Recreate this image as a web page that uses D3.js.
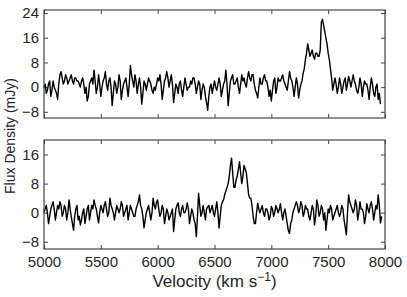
<!DOCTYPE html>
<html>
<head>
<meta charset="utf-8">
<script src="https://cdn.jsdelivr.net/npm/d3@7"></script>
<style>
  body { margin: 0; background: #fff; }
  text { font-family: "Liberation Sans", Arial, sans-serif; fill: #262626; }
</style>
</head>
<body>
<div id="chartContainer"></div>
<script>
// velocity grid, 10 km/s channels
const vStart = 5000;
const vStep = 10;

const xTicks = [5000, 5500, 6000, 6500, 7000, 7500, 8000];
const topTicks = [-8, 0, 8, 16, 24];
const bottomTicks = [-8, 0, 8, 16];

// flux density (mJy), top spectrum
const fluxTop = [
  0, 1, -2, -1, 1, 2, -3, -1, 2, 0, -1, -2, -4, 1, 4, 5, 3, 1, 2, 4,
  3, 1, 2, 3, 4, 2, 1, 3, 3, 2, 2, 1, 0, 2, 3, 1, -2, 0, -4.5, -3,
  1, 2, 3, 1, 5.5, 2, -2, 0, 4, 1, -3, 0, 2, 3, 5, 1, -1, 2, 3, 0,
  -6, -2, 2, 1, -2, 0, 4, 2, -4, -1, 1, 2, 3, 0, -3, 1, 7, 4, 2, 0,
  4, 2, -2, 1, 3, 0, -5.5, -2, 2, 1, -1, 1, 3, 2, 1, -1, -2, 0, -1, 1,
  3, 2, 4, 1, -4, -1, 2, 3, 5, 3, 0, 2, 4, 1, -5, -2, 1, 0, -2, 1,
  2, -1, -3, 0, 3, 1, -1, 0, 0, 2, 1, 3, 3, 1, -2, 0, 2, 1, -4, -1,
  1, 0, -3, -5, -7.5, -3, 0, 1, -2, 0, 2, 0, -1, 1, 3, 1, -3, -1, 1, 2,
  5.5, 1, -6, -2, 2, 3, 4, 1, 1, 2, 3, 0, -2, 1, 4, 2, 3, 1, 0, 3,
  5, 3, 2, 4, 4, 1, -1, -2, -3.5, 0, 3, 1, 1, 3, 4, 2, 2, 0, -3, -1,
  -4.5, -1, 2, 3, -2, 0, 3, 2, 2, 3, 4, 2, 1, 0, -1, 2, 5, 3, 2, 0,
  -3, 0, 3, 1, -3.5, -1, 1, 2, 4.5, 6, 9, 11, 14, 12, 10, 11, 12, 10, 9, 11,
  11, 10, 10, 12, 21, 22, 20, 18, 16, 14, 11, 9, 6, 3, -1, 1, 3, 1, -2, 0,
  3, 1, -2, 0, 2, 3, -1, 1, 3.5, 2, 0, 2, 4, 2, 1, -1, -2, 0, 3, 1,
  -3, 0, 2, 1, 1, -1, -4, 0, 3, 1, -2, -3, 0, 1, -4, -2, -5.5
];

// flux density (mJy), bottom spectrum
const fluxBottom = [
  0, 1, 2, 0, -3, -1, 1, 2, 3, 1, -2, 0, 2, 1, 3, 2, -1, 0, 2, 1,
  -2, 0, 3.5, 1, -1, -3, -4.8, -1, 1, 2, -2, -1, -3.4, -2, 0, 1, -3, -1, 1, 2,
  -2, 0, 2, 1, 3.5, 2, 1, -1, -2.8, 0, 2, 1, 0, 2, 3, 1, -1, 0, 4, 2,
  1, 0, -2, 0, 2, 1, 0, 1, 3, 2, -1, 0, 1, 2, -2, 0, 2, 1, 0, -1,
  -1, 1, 2, 3, 4.9, 2, 1, -1, -4.2, -2, 0, 1, 2, 0, -2, 0, 4, 2, 1, 3,
  3.5, 1, -1, 0, 2, 1, -3, -1, 1, 0, -2, -1, 0, 1, -5.2, -2, 1, 2, 2.7, 0,
  -1, 1, 2, 0, 0, 1, 2.7, 1, -3, -1, 1, 0, -2, -3, -6.6, -1, 5.3, 2, -1, 0,
  2, 0, -2, 1, 1.6, 2, 0, 1, 2, 0, -1, 1, 3, 0, -4.2, -1, 2, 3, 3.5, 5,
  6, 7, 8, 10, 13, 15, 11, 7, 7, 9, 10, 12, 14, 11, 8, 10, 13, 12, 11, 8,
  5, 4, 4, 2, -1, -3, -3, 0, 2.6, 1, 0, 1, 2, 0, -1, 1, 1, 0, -2, -1,
  1.7, 1, -1, 0, 2, 1, 0, 1, 2.5, 0, -2, 0, 1, -1, -3, -5, -5.7, -3, -2, 0,
  1, 2, 3, 2, 0, 1, 3, 2, -1, 0, 2, 1, 1, -1, -2, 0, 2, 1, -3.4, -1,
  3.5, 2, -1, 0, 2, 1, -2, 0, -4.8, -2, 1, 0, 2, 1, -2, -1, 0, 1, 2, 0,
  -1, 0, 2, 1, -2, -4, -6.1, 0, 4.9, 3, 2, 1, 0, 1, 3.5, 2, -2, 0, 3, 1,
  1, 0, -3, -1, 2.5, 1, 0, 2, 3, 1, -2, 0, 2, 1, 4.9, 2, -2.8, -1
];

const svgWidth = 407;
const svgHeight = 297;
const left = 44, right = 385;

const svg = d3.select("#chartContainer")
  .append("svg")
  .attr("width", svgWidth)
  .attr("height", svgHeight);

const xScale = d3.scaleLinear().domain([5000, 8000]).range([left, right]);

function drawPanel(values, yDomain, ticks, top, bottom, showX) {
  const yScale = d3.scaleLinear().domain(yDomain).range([bottom, top]);
  const g = svg.append("g");

  // left axis with labels, ticks pointing in
  g.append("g")
    .attr("transform", `translate(${left},0)`)
    .call(d3.axisLeft(yScale).tickValues(ticks).tickSizeInner(-4).tickSizeOuter(0).tickPadding(5)
      .tickFormat(d => d < 0 ? "\u2212" + Math.abs(d) : d))
    .call(a => a.select(".domain").remove())
    .call(a => a.selectAll("line").attr("stroke", "#444"))
    .call(a => a.selectAll("text").style("font-size", "15px"));

  g.append("g")
    .attr("transform", `translate(${right},0)`)
    .call(d3.axisRight(yScale).tickValues(ticks).tickSizeInner(-4).tickSizeOuter(0).tickFormat(""))
    .call(a => a.select(".domain").remove())
    .call(a => a.selectAll("line").attr("stroke", "#444"));

  g.append("g")
    .attr("transform", `translate(0,${top})`)
    .call(d3.axisTop(xScale).tickValues(xTicks).tickSizeInner(-4).tickSizeOuter(0).tickFormat(""))
    .call(a => a.select(".domain").remove())
    .call(a => a.selectAll("line").attr("stroke", "#444"));

  g.append("g")
    .attr("transform", `translate(0,${bottom})`)
    .call(d3.axisBottom(xScale).tickValues(xTicks).tickSizeInner(-4).tickSizeOuter(0).tickPadding(7)
      .tickFormat(showX ? d3.format("d") : ""))
    .call(a => a.select(".domain").remove())
    .call(a => a.selectAll("line").attr("stroke", "#444"))
    .call(a => a.selectAll("text").style("font-size", "15px"));

  const line = d3.line()
    .x((d, i) => xScale(vStart + i * vStep))
    .y(d => yScale(d));

  g.append("path")
    .datum(values)
    .attr("d", line)
    .attr("fill", "none")
    .attr("stroke", "#000")
    .attr("stroke-width", 1.4)
    .attr("stroke-linejoin", "round");

  g.append("rect")
    .attr("x", left)
    .attr("y", top)
    .attr("width", right - left)
    .attr("height", bottom - top)
    .attr("fill", "none")
    .attr("stroke", "#444")
    .attr("stroke-width", 1.2);
}

drawPanel(fluxTop, [-10, 25], topTicks, 10, 118, false);
drawPanel(fluxBottom, [-10, 20], bottomTicks, 140, 249, true);

// axis titles
const xTitle = svg.append("text")
  .attr("x", (left + right) / 2)
  .attr("y", 287)
  .attr("text-anchor", "middle")
  .style("font-size", "17px");
xTitle.append("tspan").text("Velocity (km s");
xTitle.append("tspan").attr("dy", -6).style("font-size", "12px").text("\u22121");
xTitle.append("tspan").attr("dy", 6).text(")");

svg.append("text")
  .attr("transform", "translate(15,136) rotate(-90)")
  .attr("text-anchor", "middle")
  .style("font-size", "14px")
  .text("Flux Density (mJy)");
</script>
</body>
</html>
